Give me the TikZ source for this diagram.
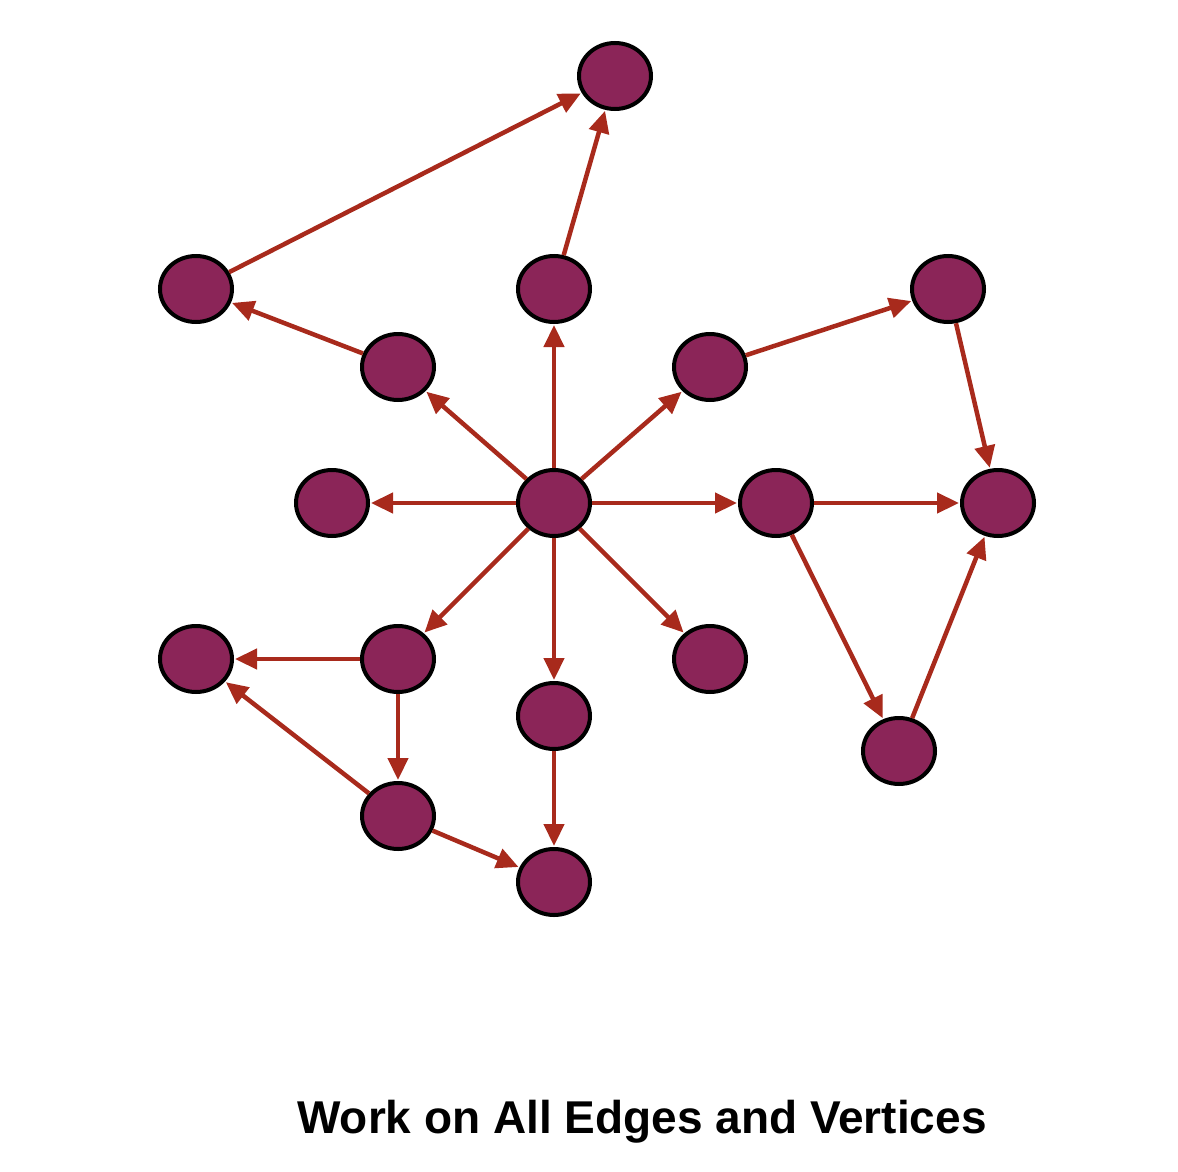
\documentclass[tikz,border=0pt]{standalone}
\usepackage{fontspec}
\setmainfont{Liberation Sans}
\usetikzlibrary{arrows.meta,shapes.geometric}
\definecolor{vfill}{HTML}{8B2558}
\definecolor{edgec}{HTML}{A82A1C}
\begin{document}
\begin{tikzpicture}[x=1pt,y=-1pt,
  vtx/.style={ellipse,draw=black,line width=4pt,fill=vfill,minimum width=72pt,minimum height=66pt,inner sep=0pt},
  arr/.style={draw=edgec,line width=4.5pt,-{Triangle[length=22pt,width=20pt]},shorten >=1pt}]
\useasboundingbox (0,0) rectangle (1178,1172);
\node[vtx] (T) at (615,76) {};
\node[vtx] (A) at (196,289) {};
\node[vtx] (B) at (554,289) {};
\node[vtx] (C) at (948,289) {};
\node[vtx] (D) at (398,367) {};
\node[vtx] (E) at (710,367) {};
\node[vtx] (F) at (332,503) {};
\node[vtx] (O) at (554,503) {};
\node[vtx] (G) at (776,503) {};
\node[vtx] (H) at (998,503) {};
\node[vtx] (I) at (196,659) {};
\node[vtx] (J) at (398,659) {};
\node[vtx] (K) at (710,659) {};
\node[vtx] (L) at (554,716) {};
\node[vtx] (M) at (899,751) {};
\node[vtx] (N) at (398,816) {};
\node[vtx] (P) at (554,882) {};
\foreach \a/\b in {A/T,B/T,D/A,O/B,O/D,O/E,E/C,C/H,O/F,O/G,G/H,G/M,M/H,O/J,O/L,O/K,J/I,J/N,N/I,N/P,L/P}
  \draw[arr] (\a) -- (\b);
\node[font=\bfseries\fontsize{46}{50}\selectfont] (title) at (642,1122) {Work on All Edges and Vertices};
\end{tikzpicture}
\end{document}
